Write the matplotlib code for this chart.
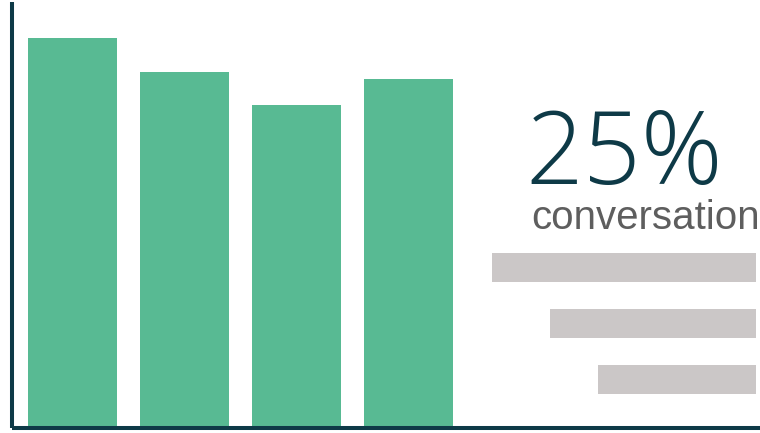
import matplotlib
matplotlib.use("Agg")
import matplotlib.pyplot as plt

# Data
categories = ["A", "B", "C", "D"]
values = [91.5, 83.6, 75.8, 81.9]
legend_lengths = [1.0, 0.78, 0.60]
headline = "25%"
subtitle = "conversation"

GREEN = "#58BA93"
DARK = "#0E3A47"
GRAY_BAR = "#CBC7C7"
GRAY_TEXT = "#5E5E5E"

fig = plt.figure(figsize=(7.6, 4.33), dpi=100)

W, H = 760, 433
ax = fig.add_axes([12 / W, 1 - 428 / H, (760 - 12) / W, (428 - 2) / H])
x = list(range(len(categories)))
ax.bar(x, values, width=0.795, color=GREEN, zorder=1)
ax.set_xlim(-0.54, 6.14)
ax.set_ylim(0, 100)
for s in ["top", "right"]:
    ax.spines[s].set_visible(False)
for s in ["left", "bottom"]:
    ax.spines[s].set_color(DARK)
    ax.spines[s].set_linewidth(2.9)
    ax.spines[s].set_capstyle("butt")
ax.set_xticks([])
ax.set_yticks([])
ax.patch.set_alpha(0)

ax2 = fig.add_axes([492 / W, 1 - 407.5 / H, (756 - 492) / W, 168 / H])
yy = list(range(len(legend_lengths)))
ax2.barh(yy, legend_lengths, left=[1 - v for v in legend_lengths],
         height=0.52, color=GRAY_BAR)
ax2.set_xlim(0, 1)
ax2.set_ylim(2.5, -0.5)
ax2.axis("off")

fig.text(525 / W, 1 - 184 / H, headline, fontsize=73, color=DARK,
         family="Open Sans", fontweight="light", ha="left", va="baseline")
fig.text(531 / W, 1 - 229 / H, subtitle, fontsize=29, color=GRAY_TEXT,
         family="Liberation Sans", ha="left", va="baseline")

fig.savefig("out.png", dpi=100, facecolor="white")
